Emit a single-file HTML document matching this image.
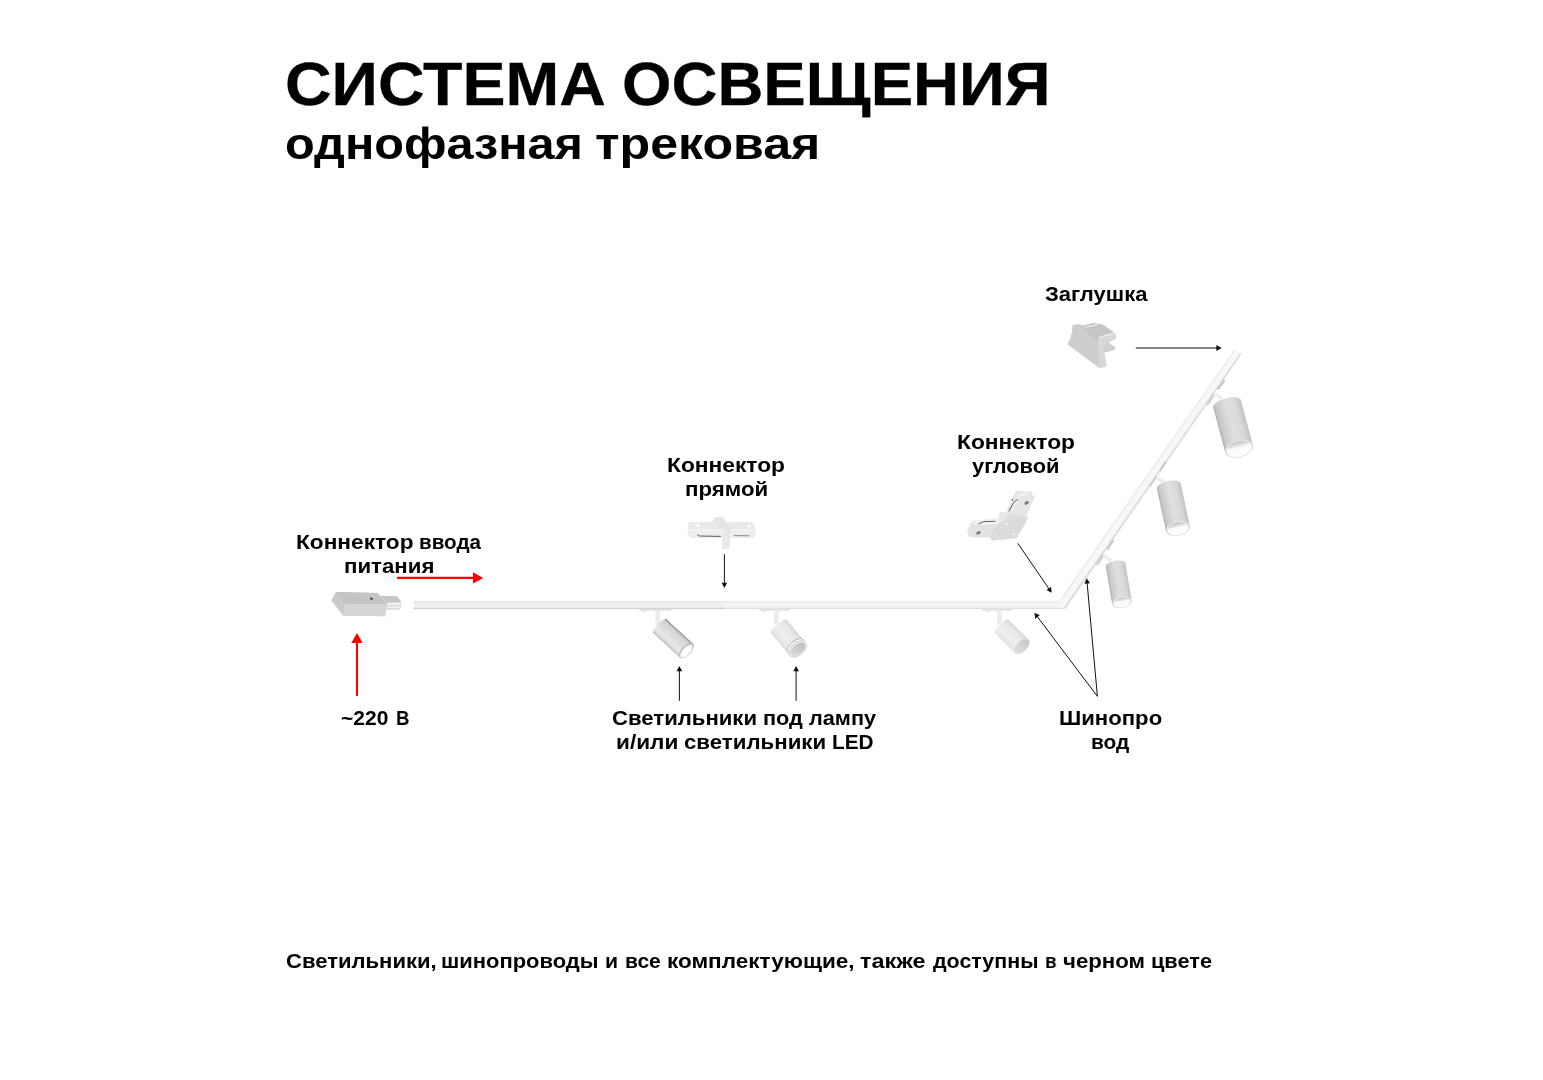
<!DOCTYPE html>
<html lang="ru">
<head>
<meta charset="utf-8">
<title>Система освещения однофазная трековая</title>
<style>
html,body{margin:0;padding:0;background:#fff;}
body{width:1543px;height:1080px;position:relative;overflow:hidden;font-family:'Liberation Sans', sans-serif;}
.t{position:absolute;left:0;width:1543px;white-space:nowrap;font-weight:bold;color:#000;margin:0;padding:0;}
.t1{-webkit-text-stroke:0.3px #000;}
.t span{position:absolute;top:0;display:block;transform-origin:0 0;will-change:transform;}
svg.art{position:absolute;left:0;top:0;width:1543px;height:1080px;}
</style>
</head>
<body>
<svg class="art" width="1543" height="1080" viewBox="0 0 1543 1080">
<defs>
  <linearGradient id="gTrack" x1="0" y1="0" x2="0" y2="1">
    <stop offset="0" stop-color="#e4e4e4"/>
    <stop offset="0.18" stop-color="#f1f1f1"/>
    <stop offset="0.5" stop-color="#f6f6f6"/>
    <stop offset="0.8" stop-color="#f0f0f0"/>
    <stop offset="1" stop-color="#d8d8d8"/>
  </linearGradient>
  <linearGradient id="gSpotA" x1="0" y1="0" x2="0" y2="1">
    <stop offset="0" stop-color="#7c7c7c"/>
    <stop offset="0.07" stop-color="#bcbcbc"/>
    <stop offset="0.16" stop-color="#d6d6d6"/>
    <stop offset="0.5" stop-color="#dedede"/>
    <stop offset="0.72" stop-color="#e9e9e9"/>
    <stop offset="0.9" stop-color="#dadada"/>
    <stop offset="1" stop-color="#b6b6b6"/>
  </linearGradient>
  <linearGradient id="gSpotB" x1="0" y1="0" x2="0" y2="1">
    <stop offset="0" stop-color="#d4d4d4"/>
    <stop offset="0.2" stop-color="#e6e6e6"/>
    <stop offset="0.6" stop-color="#f0f0f0"/>
    <stop offset="0.9" stop-color="#e6e6e6"/>
    <stop offset="1" stop-color="#d8d8d8"/>
  </linearGradient>
  <linearGradient id="gSpotC" x1="0" y1="0" x2="0" y2="1">
    <stop offset="0" stop-color="#dadada"/>
    <stop offset="0.25" stop-color="#e8e8e8"/>
    <stop offset="0.6" stop-color="#f0f0f0"/>
    <stop offset="0.9" stop-color="#e8e8e8"/>
    <stop offset="1" stop-color="#dadada"/>
  </linearGradient>
  <linearGradient id="gSpotG" x1="0" y1="0" x2="1" y2="0">
    <stop offset="0" stop-color="#adadad"/>
    <stop offset="0.09" stop-color="#c8c8c8"/>
    <stop offset="0.45" stop-color="#dfdfdf"/>
    <stop offset="0.78" stop-color="#d9d9d9"/>
    <stop offset="1" stop-color="#c2c2c2"/>
  </linearGradient>
  <linearGradient id="gLens" x1="0" y1="0" x2="0" y2="1">
    <stop offset="0" stop-color="#bebebe"/>
    <stop offset="1" stop-color="#dadada"/>
  </linearGradient>
  <linearGradient id="gOpen" x1="0" y1="0" x2="0" y2="1">
    <stop offset="0" stop-color="#c4c4c4"/>
    <stop offset="0.22" stop-color="#dadada"/>
    <stop offset="0.42" stop-color="#fbfbfb"/>
    <stop offset="1" stop-color="#ffffff"/>
  </linearGradient>
  <linearGradient id="gLensC" x1="0" y1="0" x2="0" y2="1">
    <stop offset="0" stop-color="#c8c8c8"/>
    <stop offset="1" stop-color="#dedede"/>
  </linearGradient>
</defs>

<g id="tracks">
<polygon points="413.7,601.2 1058.9,601.2 1065.2,609 413.7,609" fill="url(#gTrack)"/>
<rect x="413.7" y="608" width="311" height="1.1" fill="#d6d6d6"/>
<rect x="413.7" y="601" width="311" height="8" fill="#000000" opacity="0.02"/>
<polygon points="1058.9,601.2 1234.5,349.6 1241.5,354.1 1065.2,609" fill="#f7f7f7"/>
<polygon points="1063.9,607.4 1240.1,353.2 1241.5,354.1 1065.2,609" fill="#dcdcdc"/>
<polygon points="1058.9,601.2 1234.5,349.6 1235.5,350.2 1060.0,602.5" fill="#ececec"/>
</g>
<g class="spot">
<rect x="638.9" y="608.6" width="32.2" height="2.2" fill="#e2e2e2"/>
<rect x="642.4" y="610.4" width="3.4" height="1.5" rx="0.7" fill="#e4e4e4"/>
<rect x="655.4" y="610" width="5.0" height="14.5" fill="#ebebeb"/>
<g transform="translate(658.5,624.9) rotate(42.7)">
<path d="M2,-9.45 L37.8,-9.45 A4.8,9.45 0 0 1 37.8,9.45 L2,9.45 C-1.6,9.45 -1.6,-9.45 2,-9.45 Z" fill="url(#gSpotA)"/>
<ellipse cx="37.8" cy="0" rx="4.8" ry="9.45" fill="#bdbdbd"/>
<ellipse cx="38.3" cy="0.5" rx="3.8" ry="8.149999999999999" fill="#f7f7f7"/>
<ellipse cx="39.0" cy="1.5" rx="2.5999999999999996" ry="5.85" fill="#ffffff"/>
</g></g>
<g class="spot">
<rect x="759.3" y="608.6" width="30.3" height="2.2" fill="#e2e2e2"/>
<rect x="762.8" y="610.4" width="3.4" height="1.5" rx="0.7" fill="#e4e4e4"/>
<rect x="774.1" y="610" width="4.8" height="14.5" fill="#ebebeb"/>
<g transform="translate(777.6,625.0) rotate(50.0)">
<path d="M2,-10.3 L31.4,-10.3 A6.2,10.3 0 0 1 31.4,10.3 L2,10.3 C-1.6,10.3 -1.6,-10.3 2,-10.3 Z" fill="url(#gSpotB)"/>
<path d="M28.799999999999997,-10.3 A6.2,10.3 0 0 0 28.799999999999997,10.3" fill="none" stroke="#a9a9a9" stroke-width="0.9"/>
<path d="M29.799999999999997,-10.3 A6.2,10.3 0 0 0 29.799999999999997,10.3" fill="none" stroke="#fbfbfb" stroke-width="1"/>
<ellipse cx="31.4" cy="0" rx="6.2" ry="10.3" fill="#eeeeee" stroke="#c6c6c6" stroke-width="0.7"/>
<ellipse cx="31.7" cy="0" rx="5.0" ry="8.600000000000001" fill="url(#gLens)"/>
</g></g>
<g class="spot">
<rect x="982.2" y="608.6" width="30.4" height="2.2" fill="#e2e2e2"/>
<rect x="985.7" y="610.4" width="3.4" height="1.5" rx="0.7" fill="#e4e4e4"/>
<rect x="997.0" y="610" width="4.8" height="14.5" fill="#ebebeb"/>
<g transform="translate(1000.3,624.8) rotate(44.7)">
<path d="M2,-9.5 L30.4,-9.5 A5.4,9.5 0 0 1 30.4,9.5 L2,9.5 C-1.6,9.5 -1.6,-9.5 2,-9.5 Z" fill="url(#gSpotC)"/>
<ellipse cx="30.4" cy="0" rx="5.4" ry="9.5" fill="#dddddd"/>
<ellipse cx="30.7" cy="0" rx="4.7" ry="8.6" fill="url(#gLensC)"/>
</g></g>
<g class="spot">
<line x1="1224.6" y1="379.8" x2="1217.91" y2="389.30" stroke="#c9c9c9" stroke-width="2.2"/>
<line x1="1214.04" y1="394.80" x2="1207.0" y2="404.8" stroke="#cfcfcf" stroke-width="2.2"/>
<line x1="1215.4" y1="394.6" x2="1222.2" y2="398.6" stroke="#ededed" stroke-width="3.6"/>
<g transform="translate(1227.2,404.3) rotate(-15.0)">
<path d="M-14.3,0 C-14.3,-8.22 14.3,-8.22 14.3,0 L14.3,45.6 A14.3,8.87 0 0 1 -14.3,45.6 Z" fill="url(#gSpotG)"/>
<ellipse cx="0" cy="45.6" rx="13.90" ry="8.47" fill="#e4e4e4"/>
<ellipse cx="0" cy="46.1" rx="12.80" ry="7.57" fill="url(#gOpen)"/>
</g></g>
<g class="spot">
<line x1="1166.0" y1="461.5" x2="1159.81" y2="471.00" stroke="#c9c9c9" stroke-width="2.2"/>
<line x1="1156.22" y1="476.50" x2="1149.7" y2="486.5" stroke="#cfcfcf" stroke-width="2.2"/>
<line x1="1157.0" y1="478.3" x2="1164.8" y2="482.8" stroke="#ededed" stroke-width="3.6"/>
<g transform="translate(1168.8,486.2) rotate(-12.2)">
<path d="M-12.2,0 C-12.2,-7.02 12.2,-7.02 12.2,0 L12.2,43.0 A12.2,7.56 0 0 1 -12.2,43.0 Z" fill="url(#gSpotG)"/>
<ellipse cx="0" cy="43.0" rx="11.80" ry="7.16" fill="#e4e4e4"/>
<ellipse cx="0" cy="43.5" rx="10.70" ry="6.26" fill="url(#gOpen)"/>
</g></g>
<g class="spot">
<line x1="1113.4" y1="540.2" x2="1107.17" y2="549.55" stroke="#c9c9c9" stroke-width="2.2"/>
<line x1="1103.56" y1="554.96" x2="1097.0" y2="564.8" stroke="#cfcfcf" stroke-width="2.2"/>
<line x1="1103.6" y1="555.5" x2="1111.3" y2="560.6" stroke="#ededed" stroke-width="3.6"/>
<g transform="translate(1115.6,565.0) rotate(-9.6)">
<path d="M-9.9,0 C-9.9,-5.69 9.9,-5.69 9.9,0 L9.9,37.4 A9.9,6.14 0 0 1 -9.9,37.4 Z" fill="url(#gSpotG)"/>
<ellipse cx="0" cy="37.4" rx="9.50" ry="5.74" fill="#e4e4e4"/>
<ellipse cx="0" cy="37.9" rx="8.40" ry="4.84" fill="url(#gOpen)"/>
</g></g>
<g id="feed">
<polygon points="379.9,595.9 396.6,596.2 401.3,601.8 401.8,604.4 399.4,609.7 386.2,609.7 385,600" fill="#dcdcdc"/>
<polygon points="379.9,595.9 396.6,596.2 401.3,601.8 386.5,602.4" fill="#c6c6c6"/>
<rect x="386.4" y="603" width="15.2" height="1.8" fill="#f4f4f4"/>
<rect x="386.4" y="606.4" width="13.6" height="1.5" fill="#f4f4f4"/>
<polygon points="335.9,592.1 377.6,593.1 386.9,604.1 384.9,616.2 342.9,615.4 331.3,600.6" fill="#cbcbcb"/>
<polygon points="335.9,592.1 377.6,593.1 386.9,604.1 345.3,604.1" fill="#c4c4c4"/>
<polygon points="345.3,604.1 386.9,604.1 384.9,616.2 342.9,615.4" fill="#d5d5d5"/>
<ellipse cx="371.4" cy="598.6" rx="1.7" ry="1.0" transform="rotate(25 371.4 598.6)" fill="#383838"/>
</g>
<g id="straight">
<polygon points="689,522.2 752.4,522.2 756.1,529.6 754.3,538 689.5,538 687.6,529.6" fill="#eeeeee"/>
<polygon points="689,522.2 752.4,522.2 756.1,529.6 687.6,529.6" fill="#e9e9e9"/>
<rect x="688" y="529.4" width="67.8" height="1.3" fill="#f6f6f6"/>
<path d="M697.3,534.6 L699.6,536 L720.9,536.4" fill="none" stroke="#4a4a4a" stroke-width="0.9"/>
<path d="M733.9,535.6 L749.6,535.8" fill="none" stroke="#7c7c7c" stroke-width="0.9"/>
<polygon points="714.4,517.1 722.8,517.1 731,529.6 729.3,548.6 721.9,548.6 723.5,530 712.2,522.2" fill="#e4e4e4"/>
<polygon points="723.5,530 731,529.6 729.3,548.6 721.9,548.6" fill="#e9e9e9"/>
<ellipse cx="697.8" cy="525.6" rx="2.4" ry="1.2" transform="rotate(18 697.8 525.6)" fill="#ffffff"/>
<ellipse cx="749.2" cy="526" rx="2.4" ry="1.2" transform="rotate(18 749.2 526)" fill="#ffffff"/>
</g>
<g id="corner">
<path d="M966.7,531.1 L971.7,521.1 L998.3,518.3 L1000,512.2 L1006.2,511.9 L1014,494.2 Q1015.4,491.2 1018.2,491.1 L1031.7,491.7 L1032.2,494.4 L1034.7,497.2 L1026.1,516.1 L1028.1,517.8 L1016.7,538.3 L992.2,540.6 L990.3,537.2 L969.4,537.2 L968.3,533.9 Z" fill="#e5e5e5"/>
<polygon points="1008.5,514.5 1026.1,516.1 1028.1,517.8 1016.7,538.3 992.2,540.6 990.3,537.2 997.6,523.5" fill="#dbdbdb"/>
<polygon points="1000,512.2 1006.2,511.9 1008.5,514.5 1003.5,521.5 997.6,523.5 998.3,518.3" fill="#e8e8e8"/>
<polygon points="971.7,521.1 998.3,518.3 998.8,521.4 974.5,525.4" fill="#eeeeee"/>
<polygon points="974.5,525.4 998.8,521.4 997.6,523.5 990.3,537.2 969.4,537.2 968.3,533.9" fill="#e2e2e2"/>
<path d="M981.5,524 L998.6,522.6" stroke="#f9f9f9" stroke-width="1.5" fill="none"/>
<path d="M1011.6,511 L1019.5,495.5 L1027.5,493.5" stroke="#f3f3f3" stroke-width="2.4" fill="none" stroke-linejoin="round"/>
<path d="M978.6,524 Q981.5,522.2 984,521.7 L995.5,521.3" fill="none" stroke="#555555" stroke-width="0.9"/>
<path d="M1008.9,511.4 L1013.3,503.3 Q1015,500.6 1018.3,499.2" fill="none" stroke="#4c4c4c" stroke-width="0.9"/>
<circle cx="1012.3" cy="499.7" r="0.7" fill="#333333"/>
<ellipse cx="978.4" cy="532.8" rx="2.4" ry="1.5" transform="rotate(-22 978.4 532.8)" fill="#7a7a7a"/>
<ellipse cx="1026.6" cy="502.9" rx="2.4" ry="1.5" transform="rotate(-28 1026.6 502.9)" fill="#7a7a7a"/>
<ellipse cx="1006.6" cy="523.7" rx="1.8" ry="0.8" transform="rotate(-32 1006.6 523.7)" fill="#f8f8f8"/>
<ellipse cx="1013.9" cy="534.2" rx="1.9" ry="0.8" transform="rotate(-28 1013.9 534.2)" fill="#f8f8f8"/>
</g>
<g id="cap">
<path d="M1072.6,324.9 L1079.3,323.9 L1082.6,325.7 L1093.3,323.1 L1103,324.7 L1113.7,332.2 L1116.4,335.9 L1115.8,338.6 L1108.3,342.4 L1115.3,347.2 L1114.2,349.9 L1104,352.6 L1106.7,366 L1099.7,368.2 L1067,344 Q1071.6,340 1072.6,324.9 Z" fill="#cdcdcd"/>
<polygon points="1079.3,323.9 1082.6,325.7 1093.3,323.1 1103,324.7 1113.7,332.2 1098.6,336.6 1097.5,341.8" fill="#c6c6c6"/>
<polygon points="1097.8,341.8 1098.6,336.6 1113.7,332.2 1116.4,335.9 1115.8,338.6 1108.3,342.4 1115.3,347.2 1114.2,349.9 1104,352.6 1106.7,366 1099.7,368.2" fill="#d8d8d8"/>
<polygon points="1108.3,342.4 1115.3,347.2 1114.2,349.9 1104,352.6 1103,346" fill="#cfcfcf"/>
<line x1="1084.8" y1="327.2" x2="1097.4" y2="324.6" stroke="#eeeeee" stroke-width="1.1"/>
<line x1="1099.4" y1="337.2" x2="1113.6" y2="333.8" stroke="#eeeeee" stroke-width="1.1"/>
</g>
<g id="arrows">
<line x1="397.10" y1="577.90" x2="473.50" y2="577.90" stroke="#ff0000" stroke-width="2.1"/>
<polygon points="483.20,577.90 473.00,583.60 473.00,572.20" fill="#ff0000"/>
<line x1="357.00" y1="695.90" x2="357.00" y2="642.40" stroke="#ff0000" stroke-width="2.1"/>
<polygon points="357.00,632.90 362.70,642.90 351.30,642.90" fill="#ff0000"/>
<line x1="724.40" y1="554.20" x2="724.40" y2="583.30" stroke="#111111" stroke-width="1.0"/>
<polygon points="724.40,588.00 721.60,582.80 727.20,582.80" fill="#111111"/>
<line x1="1017.80" y1="543.30" x2="1049.04" y2="588.92" stroke="#111111" stroke-width="1.0"/>
<polygon points="1051.70,592.80 1046.45,590.09 1051.07,586.93" fill="#111111"/>
<line x1="1135.80" y1="348.00" x2="1216.80" y2="348.00" stroke="#111111" stroke-width="1.0"/>
<polygon points="1221.70,348.00 1216.30,351.00 1216.30,345.00" fill="#111111"/>
<line x1="679.40" y1="700.80" x2="679.40" y2="670.70" stroke="#111111" stroke-width="1.0"/>
<polygon points="679.40,666.00 682.20,671.20 676.60,671.20" fill="#111111"/>
<line x1="796.10" y1="700.80" x2="796.10" y2="670.70" stroke="#111111" stroke-width="1.0"/>
<polygon points="796.10,666.00 798.90,671.20 793.30,671.20" fill="#111111"/>
<line x1="1097.40" y1="696.30" x2="1087.12" y2="582.98" stroke="#111111" stroke-width="1.0"/>
<polygon points="1086.70,578.30 1089.96,583.23 1084.38,583.73" fill="#111111"/>
<line x1="1097.40" y1="696.30" x2="1037.23" y2="616.55" stroke="#111111" stroke-width="1.0"/>
<polygon points="1034.40,612.80 1039.77,615.26 1035.30,618.64" fill="#111111"/>
</g>
</svg>
<div class="t t1" style="top:54px;font-size:61px;line-height:61px"><span style="left:284.96px;transform:scaleX(1.0579)">СИСТЕМА</span> <span style="left:621.99px;transform:scaleX(1.0429)">ОСВЕЩЕНИЯ</span></div>
<div class="t t2" style="top:121px;font-size:45px;line-height:45px"><span style="left:284.81px;transform:scaleX(1.0797)">однофазная</span> <span style="left:595.41px;transform:scaleX(1.1136)">трековая</span></div>
<div class="t lb" style="top:532px;font-size:20px;line-height:20px"><span style="left:295.98px;transform:scaleX(1.1330)">Коннектор</span> <span style="left:419.35px;transform:scaleX(1.0315)">ввода</span></div>
<div class="t lb" style="top:556px;font-size:20px;line-height:20px"><span style="left:343.83px;transform:scaleX(1.1108)">питания</span></div>
<div class="t lb" style="top:708px;font-size:20px;line-height:20px"><span style="left:341.01px;transform:scaleX(1.0506)">~220</span> <span style="left:395.64px;transform:scaleX(0.9306)">В</span></div>
<div class="t lb" style="top:455px;font-size:20px;line-height:20px"><span style="left:667.28px;transform:scaleX(1.1379)">Коннектор</span></div>
<div class="t lb" style="top:479px;font-size:20px;line-height:20px"><span style="left:684.53px;transform:scaleX(1.1136)">прямой</span></div>
<div class="t lb" style="top:432px;font-size:20px;line-height:20px"><span style="left:956.78px;transform:scaleX(1.1379)">Коннектор</span></div>
<div class="t lb" style="top:456px;font-size:20px;line-height:20px"><span style="left:972.03px;transform:scaleX(1.0917)">угловой</span></div>
<div class="t lb" style="top:284px;font-size:20px;line-height:20px"><span style="left:1045.15px;transform:scaleX(1.1038)">Заглушка</span></div>
<div class="t lb" style="top:708px;font-size:20px;line-height:20px"><span style="left:612.37px;transform:scaleX(1.1062)">Светильники</span> <span style="left:762.87px;transform:scaleX(1.0857)">под</span> <span style="left:809.43px;transform:scaleX(1.0846)">лампу</span></div>
<div class="t lb" style="top:732px;font-size:20px;line-height:20px"><span style="left:615.50px;transform:scaleX(1.1311)">и/или</span> <span style="left:683.87px;transform:scaleX(1.1125)">светильники</span> <span style="left:832.10px;transform:scaleX(1.0368)">LED</span></div>
<div class="t lb" style="top:708px;font-size:20px;line-height:20px"><span style="left:1058.92px;transform:scaleX(1.1068)">Шинопро</span></div>
<div class="t lb" style="top:732px;font-size:20px;line-height:20px"><span style="left:1091.13px;transform:scaleX(1.0446)">вод</span></div>
<div class="t ft" style="top:951px;font-size:20px;line-height:20px"><span style="left:285.57px;transform:scaleX(1.1026)">Светильники,</span> <span style="left:441.05px;transform:scaleX(1.0975)">шинопроводы</span> <span style="left:605.01px;transform:scaleX(1.0632)">и</span> <span style="left:624.72px;transform:scaleX(1.0520)">все</span> <span style="left:667.31px;transform:scaleX(1.1267)">комплектующие,</span> <span style="left:860.22px;transform:scaleX(1.1689)">также</span> <span style="left:932.53px;transform:scaleX(1.0718)">доступны</span> <span style="left:1044.89px;transform:scaleX(0.9400)">в</span> <span style="left:1062.87px;transform:scaleX(1.1122)">черном</span> <span style="left:1151.17px;transform:scaleX(1.0870)">цвете</span></div>
</body>
</html>
